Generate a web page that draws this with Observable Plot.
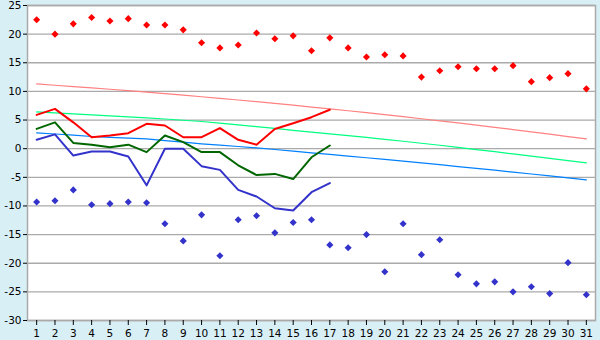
<!DOCTYPE html>
<html>
<head>
<meta charset="utf-8">
<script src="https://cdn.jsdelivr.net/npm/d3@7"></script>
<script src="https://cdn.jsdelivr.net/npm/@observablehq/plot@0.6"></script>
<style>
  html, body { margin: 0; padding: 0; background: #d9eff6; }
  #chart { width: 600px; height: 340px; }
</style>
</head>
<body>
<div id="chart"></div>
<script>
const days = d3.range(1, 32);
const yTicks = [-30, -25, -20, -15, -10, -5, 0, 5, 10, 15, 20, 25];

// Record highs (red diamonds) and record lows (blue diamonds)
const recordHigh = [22.5, 20.0, 21.8, 22.9, 22.3, 22.7, 21.6, 21.6, 20.75, 18.5, 17.6, 18.1, 20.2, 19.2, 19.7, 17.1, 19.35, 17.6, 16.0, 16.4, 16.2, 12.5, 13.6, 14.3, 13.95, 13.95, 14.5, 11.7, 12.4, 13.1, 10.45];
const recordLow = [-9.3, -9.1, -7.2, -9.8, -9.6, -9.3, -9.45, -13.1, -16.1, -11.55, -18.7, -12.4, -11.7, -14.7, -12.9, -12.4, -16.8, -17.3, -15.0, -21.5, -13.1, -18.5, -15.9, -22.0, -23.6, -23.25, -25.0, -24.1, -25.3, -19.9, -25.5];

// Observed daily values (days 1..17)
const obsMax = [5.9, 6.95, 4.6, 2.0, 2.3, 2.7, 4.35, 4.05, 2.0, 2.0, 3.6, 1.55, 0.7, 3.45, 4.45, 5.5, 6.8];
const obsMean = [3.45, 4.6, 1.0, 0.7, 0.25, 0.7, -0.6, 2.3, 1.15, -0.6, -0.6, -2.9, -4.6, -4.4, -5.3, -1.5, 0.55];
const obsMin = [1.55, 2.5, -1.2, -0.5, -0.5, -1.35, -6.4, 0.0, 0.0, -3.05, -3.7, -7.2, -8.35, -10.4, -10.8, -7.6, -6.0];

// Normals
const normMax = [11.30, 11.08, 10.85, 10.62, 10.38, 10.13, 9.88, 9.61, 9.35, 9.07, 8.79, 8.50, 8.20, 7.90, 7.59, 7.27, 6.95, 6.62, 6.28, 5.94, 5.59, 5.23, 4.86, 4.49, 4.11, 3.73, 3.34, 2.94, 2.53, 2.12, 1.70];
const normMean = [6.43, 6.26, 6.08, 5.91, 5.74, 5.56, 5.39, 5.18, 4.96, 4.75, 4.45, 4.15, 3.85, 3.55, 3.20, 2.90, 2.60, 2.28, 1.96, 1.64, 1.30, 0.95, 0.60, 0.22, -0.15, -0.53, -0.92, -1.30, -1.70, -2.08, -2.47];
const normMin = [2.77, 2.56, 2.35, 2.13, 1.98, 1.85, 1.70, 1.42, 1.14, 0.85, 0.62, 0.38, 0.15, -0.14, -0.43, -0.72, -1.00, -1.29, -1.58, -1.86, -2.16, -2.48, -2.80, -3.12, -3.44, -3.76, -4.09, -4.42, -4.76, -5.10, -5.44];

const series = (arr) => arr.map((v, i) => ({day: i + 1, v}));

const chart = Plot.plot({
  width: 600,
  height: 340,
  marginLeft: 27,
  marginRight: 5,
  marginTop: 5,
  marginBottom: 20,
  style: {background: "#d9eff6", fontFamily: "DejaVu Sans, sans-serif", fontSize: "10.5px", color: "#000"},
  x: {type: "linear", domain: [0.5, 31.5], label: null},
  y: {domain: [-30, 25], label: null},
  marks: [
    Plot.frame({fill: "white", stroke: "none"}),
    Plot.ruleY(yTicks, {stroke: "#aaaaaa", strokeWidth: 1.3}),
    Plot.frame({stroke: "#aaaaaa", strokeWidth: 1.5}),
    Plot.line(series(normMax), {x: "day", y: "v", stroke: "#ff8080", strokeWidth: 1.2}),
    Plot.line(series(normMean), {x: "day", y: "v", stroke: "#00ff80", strokeWidth: 1.2}),
    Plot.line(series(normMin), {x: "day", y: "v", stroke: "#0080ff", strokeWidth: 1.2}),
    Plot.line(series(obsMax), {x: "day", y: "v", stroke: "#ff0000", strokeWidth: 2}),
    Plot.line(series(obsMean), {x: "day", y: "v", stroke: "#006600", strokeWidth: 2}),
    Plot.line(series(obsMin), {x: "day", y: "v", stroke: "#3333cc", strokeWidth: 2}),
    Plot.dot(series(recordHigh), {x: "day", y: "v", symbol: "diamond2", r: 3.2, fill: "#ff0000", stroke: "none"}),
    Plot.dot(series(recordLow), {x: "day", y: "v", symbol: "diamond2", r: 3.2, fill: "#3333cc", stroke: "none"}),
    Plot.axisX({ticks: days, tickSize: 5, tickFormat: d => String(d), stroke: "#000"}),
    Plot.axisY({ticks: yTicks, tickSize: 4, tickPadding: 2, tickFormat: d => String(d)})
  ]
});
document.getElementById("chart").appendChild(chart);
</script>
</body>
</html>
